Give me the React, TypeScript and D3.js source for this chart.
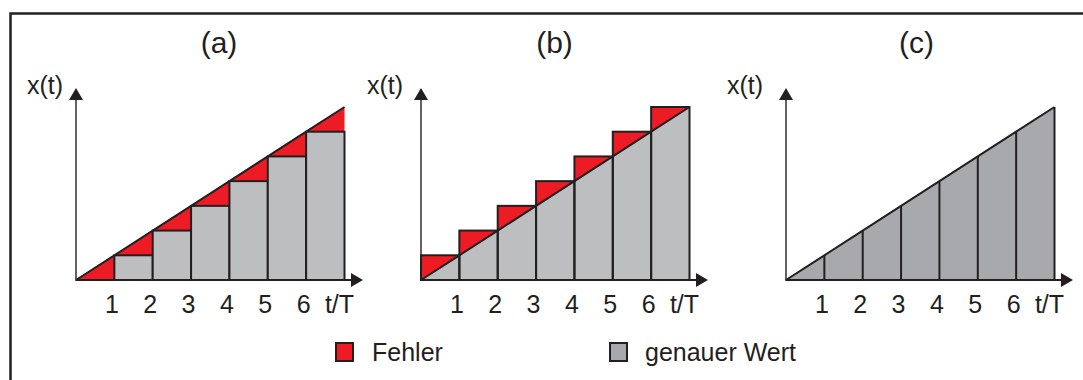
import React from "react";
import * as d3 from "d3";

// Sample instants t/T and the exact ramp value x(kT) at each of them
const tSteps = [0, 1, 2, 3, 4, 5, 6, 7];
const exactValues = [0, 1, 2, 3, 4, 5, 6, 7];
const tickLabels = ["1", "2", "3", "4", "5", "6"];
const tickPositions = [1, 2, 3, 4, 5, 6];
const axisUnitLabel = "t/T";
const yAxisLabel = "x(t)";
const panelTitles = ["(a)", "(b)", "(c)"];
const legendLabels = ["Fehler", "genauer Wert"];

const RED = "#ed1c24";
const GRAY = "#bcbec0";
const DARK_GRAY = "#a7a9ac";
const INK = "#231f20";
const FONT = "'Liberation Sans', Arial, Helvetica, sans-serif";

type Mode = "hold" | "ahead" | "exact";

const panels: { origin: number; titleX: number; labelX: number; mode: Mode }[] = [
  { origin: 76, titleX: 219, labelX: 27, mode: "hold" },
  { origin: 421, titleX: 554.5, labelX: 367, mode: "ahead" },
  { origin: 786, titleX: 916.5, labelX: 727, mode: "exact" },
];

const BASE_Y = 280;
const TOP_Y = 107;
const PLOT_W = 268.5;

function Panel({ origin, titleX, labelX, mode, title }: { origin: number; titleX: number; labelX: number; mode: Mode; title: string }) {
  const x = d3.scaleLinear().domain([0, 7]).range([origin, origin + PLOT_W]);
  const y = d3.scaleLinear().domain([0, 7]).range([BASE_Y, TOP_Y]);
  const poly = (pts: [number, number][]) =>
    d3.line<[number, number]>().x((d) => x(d[0])).y((d) => y(d[1]))(pts) + "Z";
  const last = tSteps.length - 1;
  const ramp = d3.line<number>().x((d) => x(d)).y((_, i) => y(exactValues[i]))(tSteps) as string;
  const area = d3
    .area<number>()
    .x((d) => x(d))
    .y0(y(0))
    .y1((_, i) => y(exactValues[i]))(tSteps) as string;

  const marks: React.ReactNode[] = [];
  const intervals = tSteps.slice(0, last);

  if (mode === "hold") {
    intervals.forEach((k, i) => {
      const v0 = exactValues[i];
      const v1 = exactValues[i + 1];
      marks.push(
        <path key={"e" + k} d={poly([[k, v0], [k + 1, v1], [k + 1, v0]])} fill={RED} />
      );
      if (v0 > 0) {
        marks.push(
          <rect key={"b" + k} x={x(k)} y={y(v0)} width={x(k + 1) - x(k)} height={y(0) - y(v0)}
            fill={GRAY} stroke={INK} strokeWidth={2} />
        );
      }
    });
    marks.push(<path key="ramp" d={ramp} fill="none" stroke={INK} strokeWidth={2} />);
  } else if (mode === "ahead") {
    intervals.forEach((k, i) => {
      const v0 = exactValues[i];
      const v1 = exactValues[i + 1];
      marks.push(
        <path key={"g" + k} d={poly([[k, 0], [k, v0], [k + 1, v1], [k + 1, 0]])} fill={GRAY} />
      );
      marks.push(
        <path key={"e" + k} d={poly([[k, v0], [k, v1], [k + 1, v1]])} fill={RED} />
      );
    });
    marks.push(<path key="ramp" d={ramp} fill="none" stroke={INK} strokeWidth={2} />);
    intervals.forEach((k, i) => {
      const v1 = exactValues[i + 1];
      marks.push(
        <rect key={"o" + k} x={x(k)} y={y(v1)} width={x(k + 1) - x(k)} height={y(0) - y(v1)}
          fill="none" stroke={INK} strokeWidth={2} />
      );
    });
  } else {
    marks.push(<path key="area" d={area} fill={DARK_GRAY} />);
    tSteps.slice(1).forEach((k, i) => {
      marks.push(
        <line key={"v" + k} x1={x(k)} x2={x(k)} y1={y(0)} y2={y(exactValues[i + 1])}
          stroke={INK} strokeWidth={2} />
      );
    });
    marks.push(<path key="ramp" d={ramp} fill="none" stroke={INK} strokeWidth={2} />);
  }

  const x0 = x(0);
  const arrowX = origin + 287;
  const arrowTopY = 88;

  return (
    <g>
      <text x={titleX} y={53} textAnchor="middle" fontSize={30} fill={INK}>{title}</text>
      <text x={labelX} y={94} fontSize={25} fill={INK}>{yAxisLabel}</text>
      {marks}
      {/* y axis with arrow */}
      <line x1={x0} x2={x0} y1={BASE_Y + 1} y2={arrowTopY + 10} stroke={INK} strokeWidth={1.4} />
      <path d={`M${x0},${arrowTopY} L${x0 + 7},${arrowTopY + 12} L${x0 - 7},${arrowTopY + 12} Z`} fill={INK} />
      {/* x axis with arrow */}
      <line x1={x0} x2={arrowX - 10} y1={BASE_Y} y2={BASE_Y} stroke={INK} strokeWidth={1.8} />
      <path d={`M${arrowX},${BASE_Y} L${arrowX - 12},${BASE_Y - 7} L${arrowX - 12},${BASE_Y + 7} Z`} fill={INK} />
      {tickPositions.map((t, i) => (
        <text key={t} x={x(t) - 2.5} y={313} textAnchor="middle" fontSize={25} fill={INK}>{tickLabels[i]}</text>
      ))}
      <text x={x(7) - 5} y={313} textAnchor="middle" fontSize={25} fill={INK}>{axisUnitLabel}</text>
    </g>
  );
}

export default function App() {
  return (
    <svg width={1083} height={380} style={{ position: "absolute", left: 0, top: 0, background: "#fff" }}
      fontFamily={FONT}>
      <rect x={0} y={0} width={1083} height={380} fill="#fff" />
      <rect x={10.5} y={13.5} width={1100} height={400} fill="none" stroke={INK} strokeWidth={2.5} />
      {panels.map((p, i) => (
        <Panel key={i} {...p} title={panelTitles[i]} />
      ))}
      {/* legend */}
      <rect x={336} y={343} width={17} height={18} fill={RED} stroke={INK} strokeWidth={2} />
      <text x={372} y={361} fontSize={25} fill={INK}>{legendLabels[0]}</text>
      <rect x={610} y={343} width={17} height={18} fill={DARK_GRAY} stroke={INK} strokeWidth={2} />
      <text x={645} y={361} fontSize={25} fill={INK}>{legendLabels[1]}</text>
    </svg>
  );
}
